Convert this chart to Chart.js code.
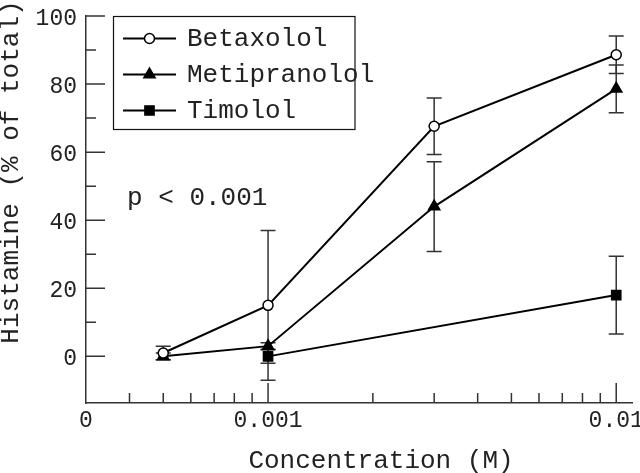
<!DOCTYPE html>
<html>
<head>
<meta charset="utf-8">
<script src="https://cdn.jsdelivr.net/npm/chart.js@4/dist/chart.umd.min.js"></script>
<style>
    html, body { margin: 0; padding: 0; background: #fff; }
    #wrap { width: 640px; height: 473px; }
</style>
</head>
<body>
<div id="wrap"><canvas id="chart"></canvas></div>
<script>
// concentration (M) and histamine release (% of total), mean and error
const concentrations = [0.0005, 0.001, 0.003, 0.01];
const betaxolol = [1, 15, 67.6, 88.6];
const betaxololErr = [2, 22, 8.3, 5.5];
const metipranolol = [0, 3, 44, 78.6];
const metipranololErr = [1, 1, 13.2, 7];
const timolol = [null, 0, null, 18];
const timololErr = [null, 2, null, 11.4];

const xTickValues = [0.0003, 0.001, 0.01];
const xTickLabels = ['0', '0.001', '0.01'];
const xMinorTicks = [0.0004, 0.0005, 0.0006, 0.0007, 0.0008, 0.0009,
    0.002, 0.003, 0.004, 0.005, 0.006, 0.007, 0.008, 0.009];
const yTickValues = [0, 20, 40, 60, 80, 100];
const yMinorTicks = [10, 30, 50, 70, 90];

const FONT = '"Liberation Mono", "DejaVu Sans Mono", monospace';
const INK = '#222';

function toPoints(values) {
    let points = [];
    values.forEach((y, i) => {
        if (y !== null) {
            points.push({x: concentrations[i], y: y});
        }
    });
    return points;
}

const series = [
    {label: 'Betaxolol', values: betaxolol, errors: betaxololErr, pointStyle: 'circle', radius: 5, fill: '#fff'},
    {label: 'Metipranolol', values: metipranolol, errors: metipranololErr, pointStyle: 'triangle', radius: 6.5, fill: '#000'},
    {label: 'Timolol', values: timolol, errors: timololErr, pointStyle: 'rect', radius: 6.5, fill: '#000'}
];

// error bars, under the markers
const errorBars = {
    id: 'errorBars',
    beforeDatasetsDraw(chart) {
        const ctx = chart.ctx;
        const x = chart.scales.x, y = chart.scales.y;
        ctx.save();
        ctx.strokeStyle = '#333';
        ctx.lineWidth = 1.5;
        series.forEach((s) => {
            s.values.forEach((v, i) => {
                const err = s.errors[i];
                if (v === null || !err) return;
                const px = x.getPixelForValue(concentrations[i]);
                const top = y.getPixelForValue(v + err);
                const bottom = y.getPixelForValue(v - err);
                ctx.beginPath();
                ctx.moveTo(px, top);
                ctx.lineTo(px, bottom);
                ctx.moveTo(px - 7.5, top);
                ctx.lineTo(px + 7.5, top);
                ctx.moveTo(px - 7.5, bottom);
                ctx.lineTo(px + 7.5, bottom);
                ctx.stroke();
            });
        });
        ctx.restore();
    }
};

// inward ticks, titles, legend box, p value
const decorations = {
    id: 'decorations',
    afterDraw(chart) {
        const ctx = chart.ctx;
        const area = chart.chartArea;
        const x = chart.scales.x, y = chart.scales.y;
        ctx.save();
        ctx.strokeStyle = '#333';
        ctx.lineWidth = 1.5;
        ctx.beginPath();
        yTickValues.forEach((v) => {
            const py = y.getPixelForValue(v);
            ctx.moveTo(area.left, py);
            ctx.lineTo(area.left + 19, py);
        });
        yMinorTicks.forEach((v) => {
            const py = y.getPixelForValue(v);
            ctx.moveTo(area.left, py);
            ctx.lineTo(area.left + 10, py);
        });
        xTickValues.slice(1).forEach((v) => {
            const px = x.getPixelForValue(v);
            ctx.moveTo(px, area.bottom);
            ctx.lineTo(px, area.bottom - 20);
        });
        xMinorTicks.forEach((v) => {
            const px = x.getPixelForValue(v);
            ctx.moveTo(px, area.bottom);
            ctx.lineTo(px, area.bottom - 10);
        });
        ctx.stroke();

        ctx.fillStyle = INK;
        ctx.font = '26px ' + FONT;
        ctx.textBaseline = 'alphabetic';
        ctx.textAlign = 'center';
        ctx.fillText('Concentration (M)', 381, 468);
        ctx.save();
        ctx.translate(18, 172);
        ctx.rotate(-Math.PI / 2);
        ctx.fillText('Histamine (% of total)', 0, 0);
        ctx.restore();

        ctx.textAlign = 'left';
        ctx.fillText('p < 0.001', 127, 205);

        // legend
        ctx.strokeStyle = '#111';
        ctx.lineWidth = 1.2;
        ctx.strokeRect(113.5, 16.5, 241.5, 113);
        series.forEach((s, i) => {
            const cy = 38.5 + i * 36;
            ctx.strokeStyle = '#000';
            ctx.lineWidth = 2;
            ctx.beginPath();
            ctx.moveTo(123, cy);
            ctx.lineTo(176, cy);
            ctx.stroke();
            ctx.fillStyle = s.fill;
            ctx.lineWidth = 1.5;
            Chart.helpers.drawPoint(ctx, {pointStyle: s.pointStyle, radius: s.radius, rotation: 0, borderWidth: 1.5}, 149.5, cy);
            ctx.fillStyle = INK;
            ctx.fillText(s.label, 187, cy + 7.5);
        });
        ctx.restore();
    }
};

const datasets = series.map((s) => ({
    label: s.label,
    data: toPoints(s.values),
    borderColor: '#000',
    borderWidth: 2,
    pointStyle: s.pointStyle,
    pointRadius: s.radius,
    pointBackgroundColor: s.fill,
    pointBorderColor: '#000',
    pointBorderWidth: 1.5,
    tension: 0,
    fill: false
}));

let chart = new Chart(document.getElementById('chart'), {
    type: 'line',
    data: {datasets},
    options: {
        responsive: true,
        maintainAspectRatio: false,
        animation: false,
        layout: {padding: {top: 16, right: 7, left: 0, bottom: 0}},
        plugins: {
            legend: {display: false},
            tooltip: {enabled: false}
        },
        scales: {
            x: {
                type: 'logarithmic',
                min: 0.0003,
                max: 0.0111,
                grid: {drawOnChartArea: false, drawTicks: false},
                border: {display: true, color: '#333', width: 1.5},
                afterBuildTicks: (scale) => {
                    scale.ticks = xTickValues.map((v) => ({value: v}));
                },
                afterFit: (scale) => {
                    scale.height = 70;
                    scale.paddingLeft = 0;
                    scale.paddingRight = 0;
                },
                ticks: {
                    autoSkip: false,
                    maxRotation: 0,
                    padding: 4,
                    color: INK,
                    font: {family: FONT, size: 23},
                    callback: (value, index) => xTickLabels[index]
                }
            },
            y: {
                min: -13.7,
                max: 100,
                grid: {drawOnChartArea: false, drawTicks: false},
                border: {display: true, color: '#333', width: 1.5},
                afterBuildTicks: (scale) => {
                    scale.ticks = yTickValues.map((v) => ({value: v}));
                },
                afterFit: (scale) => {
                    scale.width = 86;
                    scale.paddingTop = 0;
                    scale.paddingBottom = 0;
                },
                ticks: {
                    padding: 9,
                    labelOffset: 2.5,
                    color: INK,
                    font: {family: FONT, size: 23},
                    callback: (value) => String(value)
                }
            }
        }
    },
    plugins: [errorBars, decorations]
});
</script>
</body>
</html>
